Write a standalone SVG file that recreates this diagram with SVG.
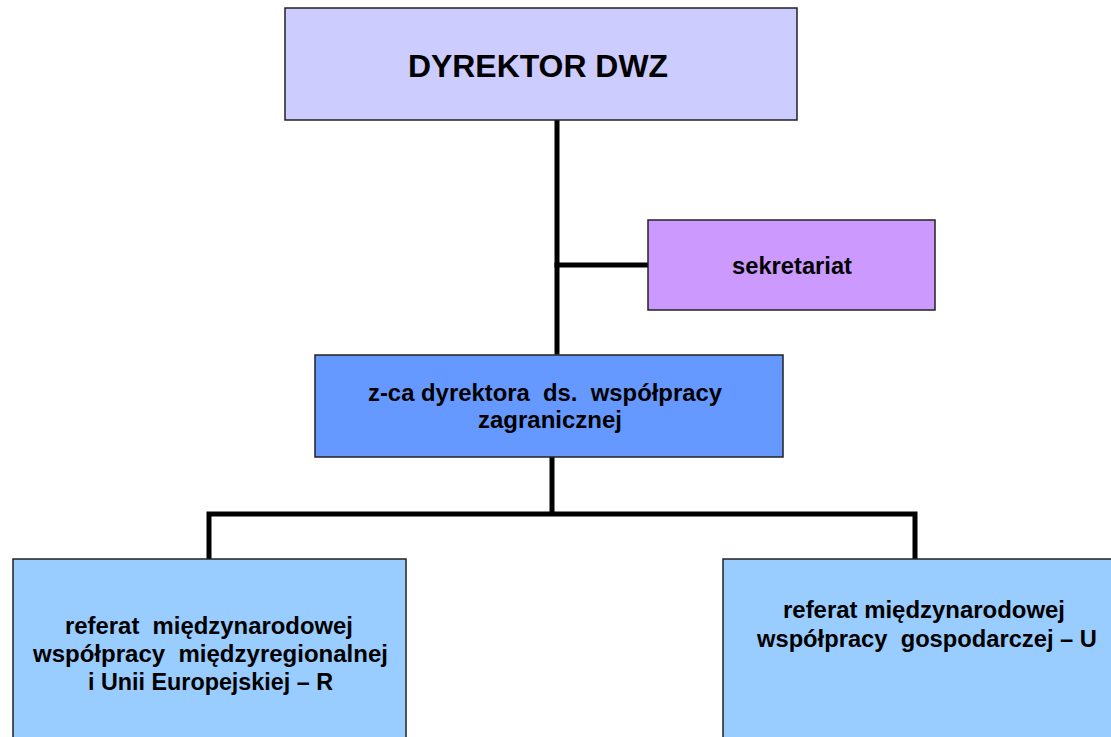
<svg xmlns="http://www.w3.org/2000/svg" width="1111" height="737" viewBox="0 0 1111 737">
<style>
.box{stroke:#222;stroke-width:1.5}
.t{font-family:"Liberation Sans",Arial,sans-serif;font-weight:bold;fill:#000;text-anchor:middle}
.s{font-size:23px}
.line{stroke:#000;stroke-width:5;fill:none;stroke-linecap:square}
</style>
<rect width="1111" height="737" fill="#fff"/>
<g id="connectors">
<line class="line" x1="557" y1="120" x2="557" y2="352"/>
<line class="line" x1="557" y1="265" x2="647" y2="265"/>
<line class="line" x1="552" y1="458" x2="552" y2="513"/>
<polyline class="line" points="209,557 209,514 915,514 915,557"/>
</g>
<g id="director">
<rect class="box" x="285" y="8" width="512" height="112" fill="#CCCCFF"/>
<text class="t" x="538" y="77" font-size="31" textLength="260" lengthAdjust="spacingAndGlyphs">DYREKTOR DWZ</text>
</g>
<g id="sekretariat">
<rect class="box" x="648" y="220" width="287" height="90" fill="#CC99FF"/>
<text class="t s" x="792" y="274" textLength="120" lengthAdjust="spacingAndGlyphs">sekretariat</text>
</g>
<g id="zastepca">
<rect class="box" x="315" y="355" width="468" height="102" fill="#6699FF"/>
<text class="t s" x="545" y="401" xml:space="preserve" textLength="354" lengthAdjust="spacingAndGlyphs">z-ca dyrektora  ds.  współpracy</text>
<text class="t s" x="550" y="428" textLength="144" lengthAdjust="spacingAndGlyphs">zagranicznej</text>
</g>
<g id="referat-r">
<rect class="box" x="13" y="559" width="393" height="190" fill="#99CCFF"/>
<text class="t s" x="209" y="634" xml:space="preserve" textLength="288" lengthAdjust="spacingAndGlyphs">referat  międzynarodowej</text>
<text class="t s" x="210.5" y="662" xml:space="preserve" textLength="355" lengthAdjust="spacingAndGlyphs">współpracy  międzyregionalnej</text>
<text class="t s" x="210.5" y="690" textLength="245" lengthAdjust="spacingAndGlyphs">i Unii Europejskiej – R</text>
</g>
<g id="referat-u">
<rect class="box" x="723" y="559" width="400" height="190" fill="#99CCFF"/>
<text class="t s" x="924" y="618" textLength="282" lengthAdjust="spacingAndGlyphs">referat międzynarodowej</text>
<text class="t s" x="927" y="647" xml:space="preserve" textLength="340" lengthAdjust="spacingAndGlyphs">współpracy  gospodarczej – U</text>
</g>
</svg>
